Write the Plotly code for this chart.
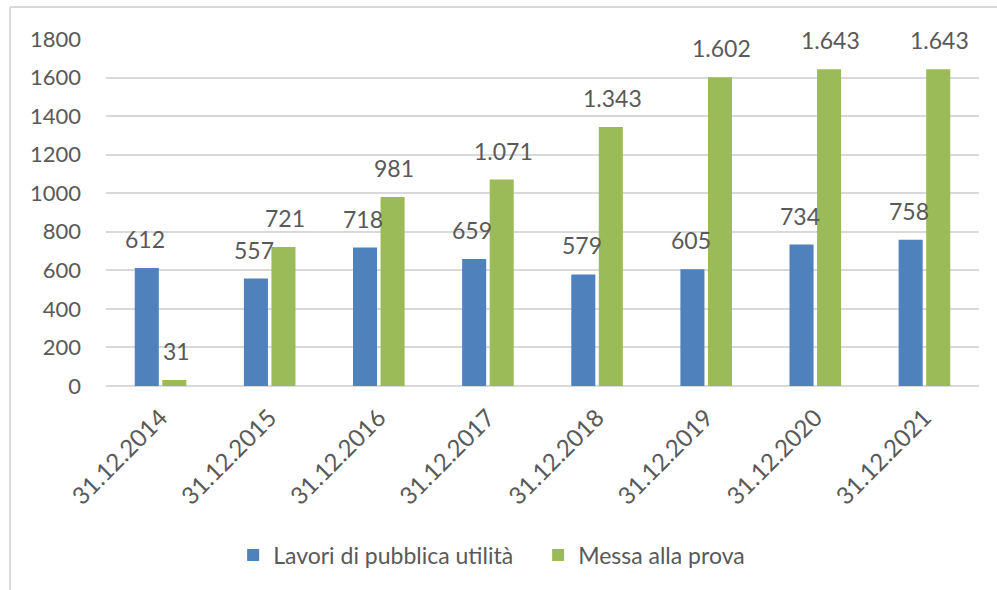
import plotly.graph_objects as go

categories = ["31.12.2014", "31.12.2015", "31.12.2016", "31.12.2017",
              "31.12.2018", "31.12.2019", "31.12.2020", "31.12.2021"]
lavori = [612, 557, 718, 659, 579, 605, 734, 758]
messa = [31, 721, 981, 1071, 1343, 1602, 1643, 1643]
series_names = ["Lavori di pubblica utilità", "Messa alla prova"]
y_ticks = [0, 200, 400, 600, 800, 1000, 1200, 1400, 1600, 1800]

BLUE = "#4f81bd"
GREEN = "#9bbb59"
TXT = "#595959"
GRID = "#d9d9d9"
FONT = "Lato, 'Open Sans', sans-serif"

W, H = 997, 590
ML, MR, MT, MB = 106, 18, 39, 204
PW = W - ML - MR
PH = H - MT - MB


def it_fmt(v):
    return f"{v:,}".replace(",", ".")


fig = go.Figure()
fig.add_trace(go.Bar(x=categories, y=lavori, name=series_names[0],
                     marker=dict(color=BLUE, line=dict(width=0))))
fig.add_trace(go.Bar(x=categories, y=messa, name=series_names[1],
                     marker=dict(color=GREEN, line=dict(width=0))))

annotations = []
for series, shift in ((lavori, -15.5), (messa, 15.5)):
    for c, v in zip(categories, series):
        annotations.append(dict(
            x=c, y=v, xref="x", yref="y", text=it_fmt(v), showarrow=False,
            xshift=shift, yshift=13, yanchor="bottom", xanchor="center",
            font=dict(family=FONT, size=23, color=TXT)))


def px_x(p):
    return (p - ML) / PW


def px_y(p):
    return (H - MB - p) / PH


shapes = [
    dict(type="line", xref="paper", yref="paper",
         x0=px_x(10), x1=px_x(1010), y0=px_y(7), y1=px_y(7),
         line=dict(color=GRID, width=2), layer="below"),
    dict(type="line", xref="paper", yref="paper",
         x0=px_x(10), x1=px_x(10), y0=px_y(7), y1=px_y(600),
         line=dict(color=GRID, width=2), layer="below"),
]

fig.update_layout(
    width=W, height=H,
    margin=dict(l=ML, r=MR, t=MT, b=MB, autoexpand=False),
    paper_bgcolor="white", plot_bgcolor="white",
    barmode="group", bargap=0.495, bargroupgap=0.127,
    font=dict(family=FONT, color=TXT, size=20),
    xaxis=dict(tickangle=-45, tickfont=dict(size=24, color=TXT),
               ticklabelstandoff=12,
               showgrid=False, showline=False, ticks="", zeroline=False),
    yaxis=dict(range=[0, 1800], tickvals=y_ticks, ticktext=[str(t) for t in y_ticks],
               showgrid=True, gridcolor=GRID, gridwidth=2,
               zeroline=True, zerolinecolor=GRID, zerolinewidth=2,
               showline=False, ticks="", ticklabelstandoff=24,
               tickfont=dict(size=22, color=TXT)),
    legend=dict(orientation="h", x=0.495, xanchor="center", y=px_y(555),
                yanchor="middle", font=dict(size=23, color=TXT),
                itemwidth=30, entrywidth=260, traceorder="normal"),
    annotations=annotations,
    shapes=shapes,
)

fig.write_html("out.html", config={"displayModeBar": False},
               post_script="document.body.style.margin='0';")
